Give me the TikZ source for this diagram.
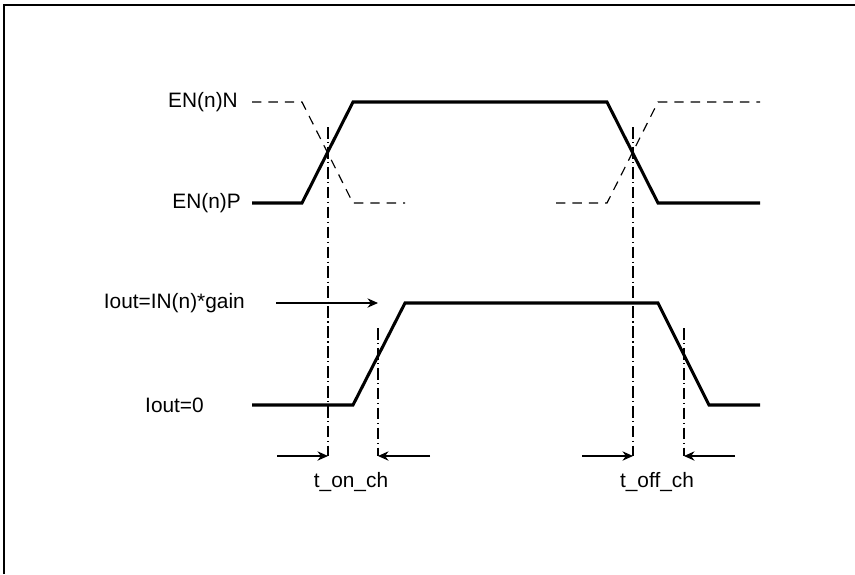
\documentclass[tikz,border=0pt]{standalone}
\usepackage{fontspec}
\setmainfont{Liberation Sans}
\usetikzlibrary{arrows.meta}
\tikzset{
  frame/.style={line width=1.7pt},
  sig/.style={line width=2.6pt, line join=miter},
  sigdash/.style={line width=1pt, dash pattern=on 8pt off 6pt},
  tmark/.style={line width=1pt, dash pattern=on 10pt off 3pt on 1pt off 3pt},
  arr/.style={line width=1pt, >={Stealth[length=9pt,width=8pt]}, ->},
  lbl/.style={anchor=east, inner sep=0pt, font=\fontsize{17.8}{20}\selectfont},
  tlbl/.style={inner sep=0pt, font=\fontsize{17.8}{20}\selectfont}
}

\begin{document}
\begin{tikzpicture}[x=0.03cm,y=-0.03cm]
  \useasboundingbox (0,0) rectangle (855,574);
  % frame, only top and left edges show
  \draw[frame] (4,574) -- (4,5) -- (855,5);

  % enable pair
  \node[lbl] (enn) at (238,102) {EN(n)N};
  \node[lbl] (enp) at (241,203) {EN(n)P};
  \draw[sig] (252,203) -- (302,203) -- (353,102) -- (607,102) -- (658,203) -- (760,203);
  \draw[sigdash] (252,102) -- (302,102) -- (353,203) -- (405,203);
  \draw[sigdash] (556,203) -- (607,203) -- (658,102) -- (760,102);

  % output current
  \node[lbl] (ion) at (245,303) {Iout=IN(n)*gain};
  \node[lbl] (ioff) at (204,405) {Iout=0};
  \draw[sig] (252,405) -- (353,405) -- (405,303) -- (658,303) -- (709,405) -- (760,405);
  \coordinate (gtail) at (276,303);
  \coordinate (ghead) at (378,303);
  \draw[arr] (gtail) -- (ghead);

  % timing marks
  \coordinate (on1) at (328,456);
  \coordinate (on2) at (378,456);
  \coordinate (off1) at (633,456);
  \coordinate (off2) at (684,456);
  \draw[tmark] (328,127) -- (on1);
  \draw[tmark] (378,328) -- (on2);
  \draw[tmark] (633,127) -- (off1);
  \draw[tmark] (684,328) -- (off2);

  \coordinate (on1t) at (277,456);
  \coordinate (on2t) at (430,456);
  \coordinate (off1t) at (582,456);
  \coordinate (off2t) at (735,456);
  \draw[arr] (on1t) -- (on1);
  \draw[arr] (on2t) -- (on2);
  \draw[arr] (off1t) -- (off1);
  \draw[arr] (off2t) -- (off2);

  \node[tlbl] (ton) at (351,482) {t\_on\_ch};
  \node[tlbl] (toff) at (657,482) {t\_off\_ch};
\end{tikzpicture}
\end{document}
